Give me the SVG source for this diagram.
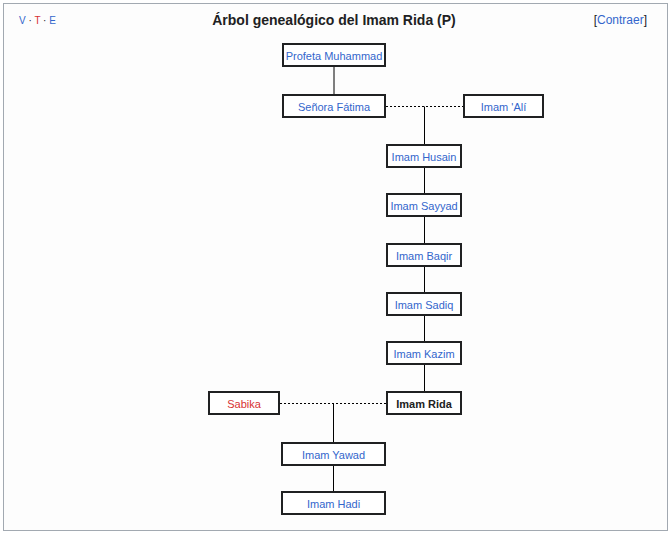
<svg xmlns="http://www.w3.org/2000/svg" width="672" height="535" viewBox="0 0 672 535">
<style>
  .box { fill: #ffffff; stroke: #202122; stroke-width: 2; }
  .t { font-family: "Liberation Sans", Arial, sans-serif; font-size: 11px; text-anchor: middle; fill: #3366cc; }
  .red { fill: #d73333; }
  .self { fill: #202122; font-weight: bold; }
  .line { stroke: #000000; stroke-width: 1; fill: none; }
  .dot { stroke: #000000; stroke-width: 1; stroke-dasharray: 2 2; fill: none; }
</style>
<rect x="0" y="0" width="672" height="535" fill="#ffffff"/>
<rect x="3.5" y="3.5" width="664" height="527" fill="#fdfdfd" stroke="#a2a9b1" stroke-width="1"/>
<g id="header" font-family="Liberation Sans, Arial, sans-serif">
  <text x="19" y="24" font-size="10" fill="#3366cc">V<tspan fill="#202122"> · </tspan><tspan fill="#d73333">T</tspan><tspan fill="#202122"> · </tspan>E</text>
  <text x="334" y="25" font-size="14" font-weight="bold" text-anchor="middle" fill="#202122">Árbol genealógico del Imam Rida (P)</text>
  <text x="647" y="24" font-size="12" text-anchor="end" fill="#202122">[<tspan fill="#3366cc">Contraer</tspan>]</text>
</g>
<g id="connectors">
  <line class="line" x1="334" y1="67" x2="334" y2="94"/>
  <line class="dot" x1="386" y1="106.5" x2="463" y2="106.5"/>
  <line class="line" x1="424.5" y1="106.5" x2="424.5" y2="144"/>
  <line class="line" x1="424.5" y1="168" x2="424.5" y2="193"/>
  <line class="line" x1="424.5" y1="217" x2="424.5" y2="243"/>
  <line class="line" x1="424.5" y1="267" x2="424.5" y2="292"/>
  <line class="line" x1="424.5" y1="316" x2="424.5" y2="341"/>
  <line class="line" x1="424.5" y1="365" x2="424.5" y2="391"/>
  <line class="dot" x1="280" y1="403.5" x2="386" y2="403.5"/>
  <line class="line" x1="333.5" y1="403.5" x2="333.5" y2="442"/>
  <line class="line" x1="333.5" y1="466" x2="333.5" y2="491"/>
</g>
<g id="profeta"><rect class="box" x="283" y="44" width="102" height="22"/><text class="t" x="334" y="59.5">Profeta Muhammad</text></g>
<g id="fatima"><rect class="box" x="283" y="95" width="102" height="22"/><text class="t" x="334" y="110.5">Señora Fátima</text></g>
<g id="ali"><rect class="box" x="464" y="95" width="79" height="22"/><text class="t" x="503.5" y="110.5">Imam 'Alí</text></g>
<g id="husain"><rect class="box" x="387" y="145" width="74" height="22"/><text class="t" x="424" y="160.5">Imam Husain</text></g>
<g id="sayyad"><rect class="box" x="387" y="194" width="74" height="22"/><text class="t" x="424" y="209.5">Imam Sayyad</text></g>
<g id="baqir"><rect class="box" x="387" y="244" width="74" height="22"/><text class="t" x="424" y="259.5">Imam Baqir</text></g>
<g id="sadiq"><rect class="box" x="387" y="293" width="74" height="22"/><text class="t" x="424" y="308.5">Imam Sadiq</text></g>
<g id="kazim"><rect class="box" x="387" y="342" width="74" height="22"/><text class="t" x="424" y="357.5">Imam Kazim</text></g>
<g id="rida"><rect class="box" x="387" y="392" width="74" height="22"/><text class="t self" x="424" y="407.5">Imam Rida</text></g>
<g id="sabika"><rect class="box" x="209" y="392" width="70" height="22"/><text class="t red" x="244" y="407.5">Sabika</text></g>
<g id="yawad"><rect class="box" x="282" y="443" width="103" height="22"/><text class="t" x="333.5" y="458.5">Imam Yawad</text></g>
<g id="hadi"><rect class="box" x="282" y="492" width="103" height="22"/><text class="t" x="333.5" y="507.5">Imam Hadi</text></g>
</svg>
